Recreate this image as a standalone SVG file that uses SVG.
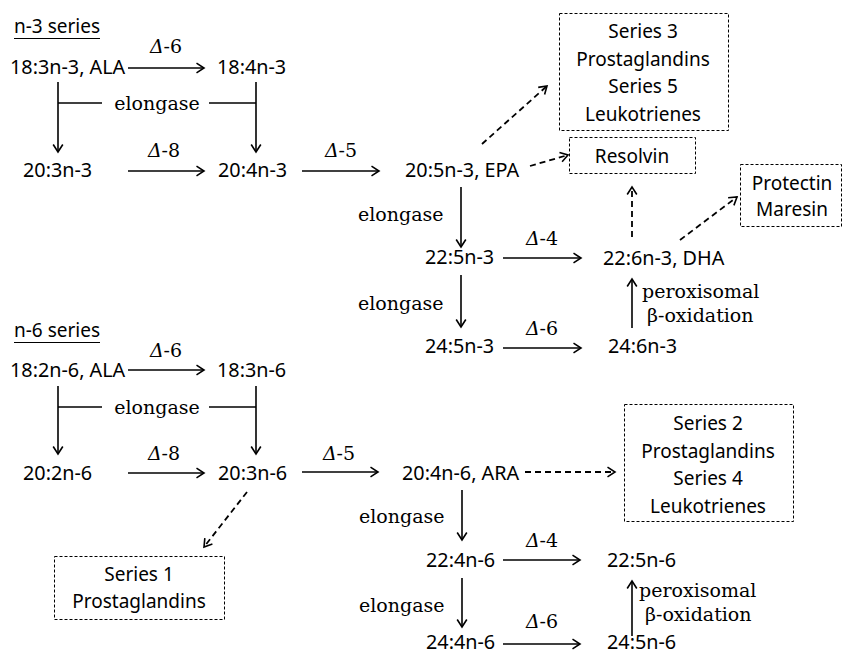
<svg xmlns="http://www.w3.org/2000/svg" width="842" height="655" viewBox="0 0 842 655">
<style>
.s{font-family:"Noto Sans","Open Sans",sans-serif;font-size:19px;fill:#000}
.n{font-family:"Noto Sans","Open Sans",sans-serif;font-size:19.8px;fill:#000}
.r{font-family:"DejaVu Serif","Liberation Serif",serif;font-size:19px;fill:#000}
.c{text-anchor:middle}
.i{font-style:italic}
.ln{stroke:#000;stroke-width:1.6;fill:none}
.ar{stroke:#000;stroke-width:1.6;fill:none;marker-end:url(#ah)}
.da{stroke:#000;stroke-width:1.8;fill:none;stroke-dasharray:6 4;marker-end:url(#ah)}
.bx{stroke:#000;stroke-width:1;fill:#fff;stroke-dasharray:3 2}
.ul{stroke:#000;stroke-width:1.2}
</style>
<defs>
<marker id="ah" markerUnits="userSpaceOnUse" markerWidth="14" markerHeight="14" viewBox="-10 -7 12 14" refX="0" refY="0" orient="auto">
<path d="M-7.5,-4.8 L0,0 L-7.5,4.8" fill="none" stroke="#000" stroke-width="1.6" stroke-dasharray="none"/>
</marker>
</defs>
<rect width="842" height="655" fill="#fff"/>

<g id="connectors">
<!-- n-3 -->
<line class="ar" x1="128" y1="68" x2="204" y2="68"/>
<line class="ar" x1="58" y1="82" x2="58" y2="152"/>
<line class="ar" x1="256" y1="82" x2="256" y2="152"/>
<line class="ln" x1="58" y1="103" x2="102" y2="103"/>
<line class="ln" x1="209" y1="103" x2="256" y2="103"/>
<line class="ar" x1="128" y1="171" x2="204" y2="171"/>
<line class="ar" x1="302" y1="171" x2="379" y2="171"/>
<line class="ar" x1="461" y1="187" x2="461" y2="247"/>
<line class="ar" x1="503" y1="258" x2="581" y2="258"/>
<line class="ar" x1="461" y1="275" x2="461" y2="327"/>
<line class="ar" x1="503" y1="348" x2="581" y2="348"/>
<line class="ar" x1="632" y1="328" x2="632" y2="279"/>
<line class="da" x1="482" y1="144" x2="547" y2="86"/>
<line class="da" x1="530" y1="166" x2="568" y2="155"/>
<line class="da" x1="632" y1="237" x2="632" y2="187"/>
<line class="da" x1="680" y1="240" x2="737" y2="197"/>
<text class="r c" x="166" y="53"><tspan class="i">Δ</tspan>-6</text>
<text class="r c" x="157" y="110">elongase</text>
<text class="r c" x="164" y="157"><tspan class="i">Δ</tspan>-8</text>
<text class="r c" x="341" y="157"><tspan class="i">Δ</tspan>-5</text>
<text class="r" x="358" y="221">elongase</text>
<text class="r c" x="542" y="245"><tspan class="i">Δ</tspan>-4</text>
<text class="r" x="358" y="310">elongase</text>
<text class="r c" x="542" y="335"><tspan class="i">Δ</tspan>-6</text>
<text class="r" x="642" y="298">peroxisomal</text>
<text class="r" x="647" y="322">β-oxidation</text>
<!-- n-6 -->
<line class="ar" x1="128" y1="370" x2="204" y2="370"/>
<line class="ar" x1="58" y1="386" x2="58" y2="454"/>
<line class="ar" x1="256" y1="386" x2="256" y2="454"/>
<line class="ln" x1="58" y1="407" x2="102" y2="407"/>
<line class="ln" x1="209" y1="407" x2="256" y2="407"/>
<line class="ar" x1="128" y1="473" x2="204" y2="473"/>
<line class="ar" x1="302" y1="472" x2="378" y2="472"/>
<line class="ar" x1="462" y1="490" x2="462" y2="540"/>
<line class="ar" x1="503" y1="560" x2="580" y2="560"/>
<line class="ar" x1="462" y1="578" x2="462" y2="627"/>
<line class="ar" x1="503" y1="644" x2="580" y2="644"/>
<line class="ar" x1="632" y1="636" x2="632" y2="581"/>
<line class="da" x1="525" y1="472" x2="615" y2="472"/>
<line class="da" x1="247" y1="492" x2="204" y2="547"/>
<text class="r c" x="166" y="357"><tspan class="i">Δ</tspan>-6</text>
<text class="r c" x="157" y="414">elongase</text>
<text class="r c" x="164" y="460"><tspan class="i">Δ</tspan>-8</text>
<text class="r c" x="339" y="460"><tspan class="i">Δ</tspan>-5</text>
<text class="r" x="359" y="523">elongase</text>
<text class="r c" x="542" y="547"><tspan class="i">Δ</tspan>-4</text>
<text class="r" x="359" y="612">elongase</text>
<text class="r c" x="542" y="628"><tspan class="i">Δ</tspan>-6</text>
<text class="r" x="639" y="597">peroxisomal</text>
<text class="r" x="645" y="621">β-oxidation</text>
</g>

<g id="title-n3"><text class="s" x="14" y="33">n-3 series</text><line class="ul" x1="14" y1="38.5" x2="100" y2="38.5"/></g>
<g id="n-18-3n3"><text class="n" x="10" y="74">18:3n-3, ALA</text></g>
<g id="n-18-4n3"><text class="n" x="217" y="74">18:4n-3</text></g>
<g id="n-20-3n3"><text class="n" x="23" y="177">20:3n-3</text></g>
<g id="n-20-4n3"><text class="n" x="218" y="177">20:4n-3</text></g>
<g id="n-epa"><text class="n" x="405" y="177">20:5n-3, EPA</text></g>
<g id="n-22-5n3"><text class="n" x="425" y="264">22:5n-3</text></g>
<g id="n-dha"><text class="n" x="603" y="265">22:6n-3, DHA</text></g>
<g id="n-24-5n3"><text class="n" x="425" y="353">24:5n-3</text></g>
<g id="n-24-6n3"><text class="n" x="608" y="353">24:6n-3</text></g>
<g id="box-series35"><rect class="bx" x="559.5" y="13.5" width="169" height="117"/>
<text class="s c" x="643" y="38">Series 3</text><text class="s c" x="643" y="65.5">Prostaglandins</text><text class="s c" x="643" y="93">Series 5</text><text class="s c" x="643" y="120.5">Leukotrienes</text></g>
<g id="box-resolvin"><rect class="bx" x="569.5" y="137.5" width="126" height="36"/><text class="s c" x="632" y="163">Resolvin</text></g>
<g id="box-protectin"><rect class="bx" x="740.5" y="164.5" width="101" height="62"/><text class="s c" x="792" y="190">Protectin</text><text class="s c" x="792" y="216">Maresin</text></g>

<g id="title-n6"><text class="s" x="14" y="337">n-6 series</text><line class="ul" x1="14" y1="342.5" x2="100" y2="342.5"/></g>
<g id="n-18-2n6"><text class="n" x="10" y="377">18:2n-6, ALA</text></g>
<g id="n-18-3n6"><text class="n" x="217" y="377">18:3n-6</text></g>
<g id="n-20-2n6"><text class="n" x="23" y="480">20:2n-6</text></g>
<g id="n-20-3n6"><text class="n" x="218" y="480">20:3n-6</text></g>
<g id="n-ara"><text class="n" x="402" y="480">20:4n-6, ARA</text></g>
<g id="n-22-4n6"><text class="n" x="426" y="567">22:4n-6</text></g>
<g id="n-22-5n6"><text class="n" x="607" y="567">22:5n-6</text></g>
<g id="n-24-4n6"><text class="n" x="426" y="649">24:4n-6</text></g>
<g id="n-24-5n6"><text class="n" x="607" y="649">24:5n-6</text></g>
<g id="box-series24"><rect class="bx" x="624.5" y="404.5" width="169" height="117"/>
<text class="s c" x="708" y="430">Series 2</text><text class="s c" x="708" y="457.5">Prostaglandins</text><text class="s c" x="708" y="485">Series 4</text><text class="s c" x="708" y="512.5">Leukotrienes</text></g>
<g id="box-series1"><rect class="bx" x="54.5" y="556.5" width="170" height="63"/><text class="s c" x="139" y="581">Series 1</text><text class="s c" x="139" y="608">Prostaglandins</text></g>
</svg>
